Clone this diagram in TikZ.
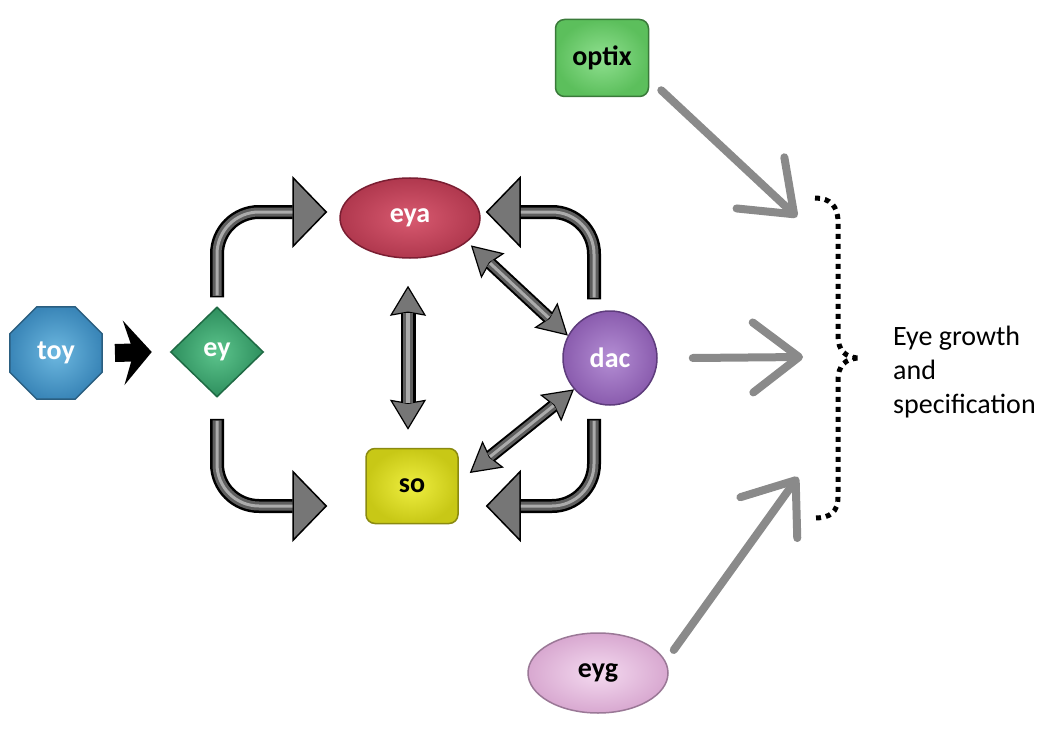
\documentclass[tikz,border=0pt]{standalone}
\usepackage{fontspec}
\setmainfont{Carlito}
\usetikzlibrary{shapes.geometric,arrows.meta,calc}
\definecolor{toybase}{HTML}{3A86B8}
\definecolor{toylight}{HTML}{6DB8E0}
\definecolor{toyedge}{HTML}{2A5E80}
\definecolor{eybase}{HTML}{2E8F5E}
\definecolor{eylight}{HTML}{5CC48C}
\definecolor{eyedge}{HTML}{1F6A44}
\definecolor{eyabase}{HTML}{B0384E}
\definecolor{eyalight}{HTML}{D85A70}
\definecolor{eyaedge}{HTML}{7A1E32}
\definecolor{sobase}{HTML}{C8C816}
\definecolor{solight}{HTML}{EEEE40}
\definecolor{soedge}{HTML}{8A8A10}
\definecolor{dacbase}{HTML}{8A5CAE}
\definecolor{daclight}{HTML}{B48ED4}
\definecolor{dacedge}{HTML}{5E3C7C}
\definecolor{optbase}{HTML}{5CBF5C}
\definecolor{optlight}{HTML}{90E090}
\definecolor{optedge}{HTML}{3A7A3A}
\definecolor{eygbase}{HTML}{D8A8D0}
\definecolor{eyglight}{HTML}{F4DAF0}
\definecolor{eygedge}{HTML}{9A7896}
\definecolor{tubegray}{HTML}{5E5E5E}
\definecolor{tubelight}{HTML}{ABABAB}
\definecolor{headgray}{HTML}{767676}
\definecolor{arrowgray}{HTML}{8A8A8A}
\newcommand\tubearrow[4]{\draw[#1] #4; \draw[#2] #4; \draw[#3] #4;}
\tikzset{
  gene/.style={draw, line width=1.5pt, inner sep=0pt, font=\fontsize{28}{34}\selectfont\bfseries},
  toyst/.style={gene, regular polygon, regular polygon sides=8, minimum size=100pt,
    draw=toyedge, inner color=toylight, outer color=toybase, text=white},
  eyst/.style={gene, diamond, minimum width=93pt, minimum height=90pt,
    draw=eyedge, inner color=eylight, outer color=eybase, text=white},
  eyast/.style={gene, ellipse, minimum width=140pt, minimum height=80pt,
    draw=eyaedge, inner color=eyalight, outer color=eyabase, text=white},
  sost/.style={gene, rectangle, rounded corners=9pt, minimum width=92pt, minimum height=75pt,
    draw=soedge, inner color=solight, outer color=sobase, text=black},
  dacst/.style={gene, circle, minimum size=94pt,
    draw=dacedge, inner color=daclight, outer color=dacbase, text=white},
  optst/.style={gene, rectangle, rounded corners=9pt, minimum width=93pt, minimum height=77pt,
    draw=optedge, inner color=optlight, outer color=optbase, text=black},
  eygst/.style={gene, ellipse, minimum width=140pt, minimum height=80pt,
    draw=eygedge, inner color=eyglight, outer color=eygbase, text=black},
  blackarrow/.style={draw=black, line width=18pt, -{Stealth[length=28pt,width=64pt,inset=10pt]}},
  % curved tube arrows
  bendout/.style={draw=black, line width=14pt,
    -{Triangle[length=35pt,width=72pt,fill=headgray,line width=1.5pt]}},
  bendin/.style={draw=tubegray, line width=9pt, shorten >=35pt, shorten <=1.5pt},
  bendshine/.style={draw=tubelight, line width=3pt, shorten >=35pt, shorten <=2pt},
  % vertical double arrow
  vhead/.tip={Stealth[length=30pt,width=36pt,inset=3pt,fill=headgray,line width=1.2pt]},
  vout/.style={draw=black, line width=15pt, vhead-vhead},
  vin/.style={draw=tubegray, line width=10pt, shorten >=27pt, shorten <=27pt},
  vshine/.style={draw=tubelight, line width=3.5pt, shorten >=27pt, shorten <=27pt},
  % diagonal double arrows
  dhead/.tip={Stealth[length=30pt,width=34pt,inset=4pt,fill=headgray,line width=1.2pt]},
  dout/.style={draw=black, line width=13pt, dhead-dhead},
  din/.style={draw=tubegray, line width=9pt, shorten >=26pt, shorten <=26pt},
  dshine/.style={draw=tubelight, line width=3pt, shorten >=26pt, shorten <=26pt},
  grayarrow/.style={draw=arrowgray, line width=8pt, line cap=round,
    -{Straight Barb[length=46pt,width=70pt,round]}},
  brace/.style={draw=black, line width=5pt, dash pattern=on 5pt off 5pt},
  result/.style={font=\fontsize{28}{34}\selectfont, align=left, inner sep=0pt}
}
\begin{document}
\begin{tikzpicture}[x=1pt,y=-1pt]
\useasboundingbox (0,0) rectangle (1050,741);
% nodes
\node[toyst] (toy) at (56,353) {toy};
\node[eyst] (ey) at (217,352) {ey};
\node[eyast] (eya) at (410,218) {eya};
\node[sost] (so) at (412,486) {so};
\node[dacst] (dac) at (610,358) {dac};
\node[optst] (optix) at (602,58) {optix};
\node[eygst] (eyg) at (598,673) {eyg};
\node[result, anchor=west] (res) at (893,372) {Eye growth\\and\\specification};
% brace end points
\coordinate (g1) at (797,217);
\coordinate (g2) at (803,357);
\coordinate (g3) at (798,477);
% toy -> ey
\draw[blackarrow] ($(toy.east)+(12,0)$) -- ($(ey.west)+(-18,0)$);
% curved tube arrows
\tubearrow{bendout}{bendin}{bendshine}{[rounded corners=42pt] ($(ey.north)+(0,-9)$) |- ($(eya.west)+(-12,-6)$)}
\tubearrow{bendout}{bendin}{bendshine}{[rounded corners=42pt] ($(ey.south)+(0,21)$) |- ($(so.west)+(-38,20)$)}
\tubearrow{bendout}{bendin}{bendshine}{[rounded corners=42pt] ($(dac.north)+(-16,-11)$) |- ($(eya.east)+(5,-6)$)}
\tubearrow{bendout}{bendin}{bendshine}{[rounded corners=42pt] ($(dac.south)+(-16,13)$) |- ($(so.east)+(27,20)$)}
% double arrows
\tubearrow{vout}{vin}{vshine}{($(eya.south)+(-2,27)$) -- ($(eya.south |- so.north)+(-2,-18)$)}
\tubearrow{dout}{din}{dshine}{($(eya.-22)+(3,4)$) -- (dac.152)}
\tubearrow{dout}{din}{dshine}{($(so.east)+(11,-13)$) -- (dac.221)}
% gray arrows to brace
\draw[grayarrow] ($(optix.south east)+(12,-7)$) -- (g1);
\draw[grayarrow] ($(dac.east)+(35,0)$) -- (g2);
\draw[grayarrow] ($(eyg.east)+(5,-23)$) -- (g3);
% brace
\draw[brace] (815,198) .. controls (830,198) and (838,206) .. (838,222) -- (838,336)
  .. controls (838,350) and (845,358) .. (860,358)
  .. controls (845,358) and (838,366) .. (838,380) -- (838,497)
  .. controls (838,512) and (830,518) .. (815,518);
\end{tikzpicture}
\end{document}
